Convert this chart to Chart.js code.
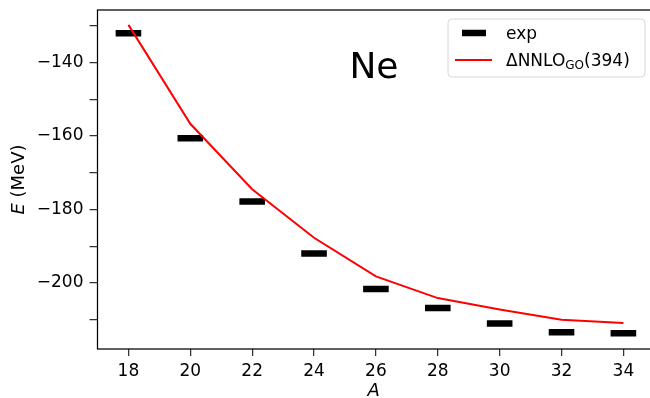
<!DOCTYPE html>
<html>
<head>
<meta charset="utf-8">
<script src="https://cdn.jsdelivr.net/npm/chart.js@4/dist/chart.umd.min.js"></script>
<style>
  html, body { margin: 0; padding: 0; background: #fff; }
  #wrap { width: 650px; height: 398px; position: relative; }
</style>
</head>
<body>
<div id="wrap"><canvas id="neChart"></canvas></div>
<script>
// ===== Ne binding energies =====
const massNumbers = [18, 20, 22, 24, 26, 28, 30, 32, 34];
const expEnergy = [-132.1, -160.6, -177.8, -192.0, -201.6, -206.8, -211.0, -213.4, -213.7];
const calcEnergy = [-129.8, -156.7, -174.5, -187.7, -198.2, -204.1, -207.2, -210.0, -210.9];

const xTicks = [18, 20, 22, 24, 26, 28, 30, 32, 34];
const yTicks = [-130, -135, -140, -145, -150, -155, -160, -165, -170, -175, -180,
                -185, -190, -195, -200, -205, -210, -215];
const yLabelEvery = 20;

const expLabel = 'exp';
const calcLabel = ['ΔNNLO', 'GO', '(394)'];
const elementName = 'Ne';

const FONT = 'DejaVu Sans';

// ==================== HELPERS ====================
function toPoints(xs, ys) {
    return xs.map((x, i) => ({ x: x, y: ys[i] }));
}

function fmtMinus(v) {
    return v < 0 ? '\u2212' + Math.abs(v) : String(v);
}

function noPad(s) {
    s.paddingTop = 0;
    s.paddingBottom = 0;
    s.paddingLeft = 0;
    s.paddingRight = 0;
}

// frame, titles, "Ne" label and legend
const decorPlugin = {
    id: 'decor',
    afterDraw(chart) {
        const ctx = chart.ctx;
        const a = chart.chartArea;
        ctx.save();

        // frame
        ctx.strokeStyle = '#000';
        ctx.lineWidth = 1.25;
        ctx.strokeRect(a.left, a.top, a.right - a.left + 2, a.bottom - a.top);

        // element name
        ctx.fillStyle = '#000';
        ctx.font = '36px "' + FONT + '"';
        ctx.textBaseline = 'alphabetic';
        ctx.textAlign = 'left';
        ctx.fillText(elementName, a.left + 0.456 * (a.right - a.left), 78);

        // y title: italic E + (MeV)
        ctx.save();
        ctx.translate(19, (a.top + a.bottom) / 2);
        ctx.rotate(-Math.PI / 2);
        ctx.textBaseline = 'middle';
        const itFont = 'italic 18px "' + FONT + '"';
        const upFont = '18px "' + FONT + '"';
        ctx.font = itFont;
        const wE = ctx.measureText('E').width;
        ctx.font = upFont;
        const wRest = ctx.measureText(' (MeV)').width;
        let sx = -(wE + wRest) / 2;
        ctx.font = itFont;
        ctx.fillText('E', sx, 0);
        ctx.font = upFont;
        ctx.fillText(' (MeV)', sx + wE, 0);
        ctx.restore();

        // x title
        ctx.font = 'italic 18px "' + FONT + '"';
        ctx.textAlign = 'center';
        ctx.textBaseline = 'alphabetic';
        ctx.fillText('A', (a.left + a.right) / 2, 396);

        // legend box
        const bx = a.right - 202, by = a.top + 9, bw = 197, bh = 58;
        ctx.beginPath();
        ctx.roundRect(bx, by, bw, bh, 4);
        ctx.fillStyle = 'rgba(255,255,255,0.8)';
        ctx.fill();
        ctx.strokeStyle = '#d6d6d6';
        ctx.lineWidth = 1;
        ctx.stroke();

        const row1 = by + 14, row2 = by + 41;
        // exp handle
        ctx.strokeStyle = '#000';
        ctx.lineWidth = 6.5;
        ctx.beginPath();
        ctx.moveTo(bx + 14, row1);
        ctx.lineTo(bx + 38, row1);
        ctx.stroke();
        // calc handle
        ctx.strokeStyle = '#ff0000';
        ctx.lineWidth = 2;
        ctx.beginPath();
        ctx.moveTo(bx + 7, row2);
        ctx.lineTo(bx + 44, row2);
        ctx.stroke();

        ctx.fillStyle = '#000';
        ctx.textAlign = 'left';
        ctx.textBaseline = 'alphabetic';
        const tx = bx + 58;
        ctx.font = '17px "' + FONT + '"';
        ctx.fillText(expLabel, tx, row1 + 6);
        ctx.fillText(calcLabel[0], tx, row2 + 6);
        let w = ctx.measureText(calcLabel[0]).width;
        ctx.font = '12px "' + FONT + '"';
        ctx.fillText(calcLabel[1], tx + w, row2 + 9);
        w += ctx.measureText(calcLabel[1]).width;
        ctx.font = '17px "' + FONT + '"';
        ctx.fillText(calcLabel[2], tx + w, row2 + 6);

        ctx.restore();
    }
};

// ==================== CHART ====================
const neChart = new Chart(document.getElementById('neChart'), {
    type: 'scatter',
    data: {
        datasets: [
            {
                label: expLabel,
                data: toPoints(massNumbers, expEnergy),
                pointStyle: 'line',
                pointRadius: 12.8,
                pointHoverRadius: 12.8,
                pointBorderWidth: 6.5,
                borderColor: '#000',
                backgroundColor: '#000',
                showLine: false,
                order: 1
            },
            {
                label: calcLabel.join(''),
                data: toPoints(massNumbers, calcEnergy),
                showLine: true,
                borderColor: '#ff0000',
                borderWidth: 2,
                pointRadius: 0,
                fill: false,
                tension: 0,
                order: 0
            }
        ]
    },
    options: {
        responsive: true,
        maintainAspectRatio: false,
        animation: false,
        devicePixelRatio: 1,
        layout: { autoPadding: false, padding: { left: 0, right: 0, top: 10, bottom: 0 } },
        plugins: {
            legend: { display: false },
            tooltip: { enabled: false }
        },
        scales: {
            x: {
                type: 'linear',
                min: 17.0,
                max: 34.86,
                afterBuildTicks: s => { s.ticks = xTicks.map(v => ({ value: v })); },
                afterFit: s => { s.height = 49; noPad(s); },
                border: { display: false },
                grid: {
                    drawOnChartArea: false,
                    drawTicks: true,
                    tickLength: 7,
                    tickColor: '#333',
                    lineWidth: 1.25
                },
                ticks: {
                    color: '#000',
                    padding: 5,
                    maxRotation: 0,
                    font: { family: FONT, size: 17 },
                    callback: v => String(v)
                }
            },
            y: {
                type: 'linear',
                min: -217.95,
                max: -125.75,
                afterBuildTicks: s => { s.ticks = yTicks.map(v => ({ value: v })); },
                afterFit: s => { s.width = 97.5; noPad(s); },
                border: { display: false },
                grid: {
                    drawOnChartArea: false,
                    drawTicks: true,
                    tickLength: 8,
                    tickColor: '#333',
                    lineWidth: 1.25
                },
                ticks: {
                    color: '#000',
                    padding: 6,
                    font: { family: FONT, size: 17 },
                    callback: v => (v % yLabelEvery === 0 ? fmtMinus(v) : '')
                }
            }
        }
    },
    plugins: [decorPlugin]
});
</script>
</body>
</html>
